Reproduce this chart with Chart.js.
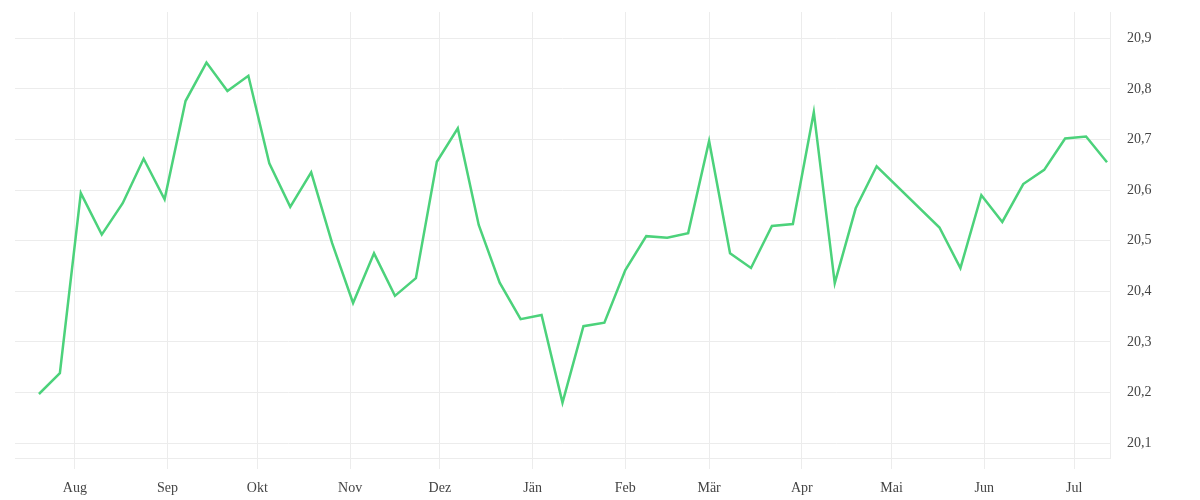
<!DOCTYPE html>
<html>
<head>
<meta charset="utf-8">
<script src="https://cdn.jsdelivr.net/npm/chart.js@4"></script>
<style>
html,body{margin:0;padding:0;background:#fff;}
#wrap{width:1200px;height:500px;position:relative;}
</style>
</head>
<body>
<div id="wrap"><canvas id="c" width="1200" height="500"></canvas></div>
<script>
// Weekly dates (two missing weeks in late April / early May)
const dates = [
  '2022-07-20','2022-07-27','2022-08-03','2022-08-10','2022-08-17','2022-08-24','2022-08-31',
  '2022-09-07','2022-09-14','2022-09-21','2022-09-28','2022-10-05','2022-10-12','2022-10-19',
  '2022-10-26','2022-11-02','2022-11-09','2022-11-16','2022-11-23','2022-11-30','2022-12-07',
  '2022-12-14','2022-12-21','2022-12-28','2023-01-04','2023-01-11','2023-01-18','2023-01-25',
  '2023-02-01','2023-02-08','2023-02-15','2023-02-22','2023-03-01','2023-03-08','2023-03-15',
  '2023-03-22','2023-03-29','2023-04-05','2023-04-12','2023-04-19','2023-04-26',
  '2023-05-17','2023-05-24','2023-05-31','2023-06-07','2023-06-14','2023-06-21','2023-06-28',
  '2023-07-05','2023-07-12'
];
const values = [
  20.197,20.238,20.594,20.512,20.574,20.662,20.582,
  20.776,20.852,20.796,20.826,20.653,20.567,20.635,
  20.495,20.377,20.475,20.391,20.426,20.656,20.722,
  20.531,20.417,20.345,20.353,20.180,20.331,20.338,
  20.442,20.509,20.506,20.515,20.697,20.475,20.446,
  20.529,20.533,20.754,20.416,20.564,20.647,
  20.526,20.446,20.590,20.537,20.612,20.640,20.702,
  20.706,20.655
];
const monthStarts = ['2022-08-01','2022-09-01','2022-10-01','2022-11-01','2022-12-01','2023-01-01',
  '2023-02-01','2023-03-01','2023-04-01','2023-05-01','2023-06-01','2023-07-01'];
const monthLabels = ['Aug','Sep','Okt','Nov','Dez','Jän','Feb','Mär','Apr','Mai','Jun','Jul'];
const yTicks = [20.1,20.2,20.3,20.4,20.5,20.6,20.7,20.8,20.9];
const xRange = ['2022-07-12','2023-07-13'];
const yRange = [20.0705, 20.952];

function dayNum(s){ const p=s.split('-'); return Date.UTC(+p[0],+p[1]-1,+p[2])/86400000; }
const monthDays = monthStarts.map(dayNum);
const points = dates.map((d,i)=>({x:dayNum(d), y:values[i]}));

const FONT = '"Liberation Serif", "DejaVu Serif", serif';
const gridColor = '#ececec';

new Chart(document.getElementById('c'), {
  type: 'line',
  data: { datasets: [{
    data: points,
    borderColor: '#4cd27b',
    borderWidth: 2.5,
    pointRadius: 0,
    tension: 0,
    fill: false
  }]},
  options: {
    responsive: false,
    animation: false,
    layout: { padding: { left: 15, top: 12, right: 0, bottom: 0 } },
    plugins: { legend: {display:false}, tooltip:{enabled:false} },
    scales: {
      x: {
        type: 'linear',
        min: dayNum(xRange[0]),
        max: dayNum(xRange[1]),
        afterBuildTicks: s => { s.ticks = monthDays.map(v=>({value:v})); },
        afterFit: s => { s.height = 42; s.paddingLeft = 0; s.paddingRight = 0; },
        grid: { color: gridColor, lineWidth: 1, drawTicks: true, tickLength: 11 },
        border: { color: gridColor },
        ticks: {
          autoSkip: false, maxRotation: 0, padding: 11,
          color: '#444', font: { family: FONT, size: 14 },
          callback: v => { const i = monthDays.indexOf(v); return i>=0 ? monthLabels[i] : ''; }
        }
      },
      y: {
        position: 'right',
        min: yRange[0],
        max: yRange[1],
        afterBuildTicks: s => { s.ticks = yTicks.map(v=>({value:v})); },
        afterFit: s => { s.width = 90; s.paddingTop = 0; s.paddingBottom = 0; },
        grid: { color: gridColor, lineWidth: 1, drawTicks: false },
        border: { color: gridColor },
        ticks: {
          padding: 17,
          color: '#444', font: { family: FONT, size: 14 },
          callback: v => v.toFixed(1).replace('.', ',')
        }
      }
    }
  }
});
</script>
</body>
</html>
